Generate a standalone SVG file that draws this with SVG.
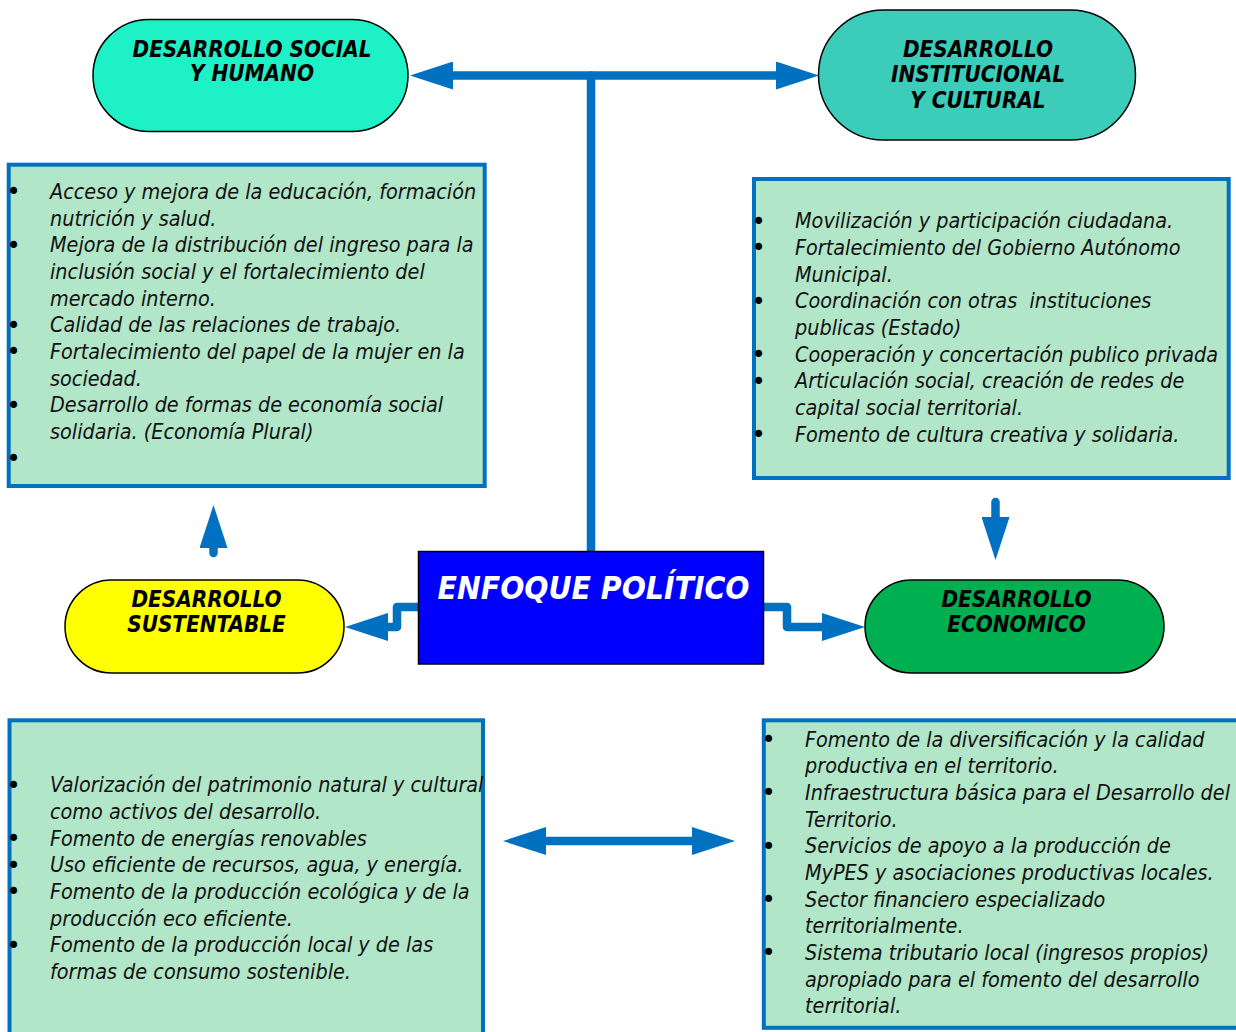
<svg xmlns="http://www.w3.org/2000/svg" width="1236" height="1032" viewBox="0 0 1236 1032">
<defs>
<style>
.pill{stroke:#000;stroke-width:1.5}
.box{fill:#B2E6C8;stroke:#0070C0;stroke-width:4}
.nt{font-family:"DejaVu Sans Condensed","DejaVu Sans",sans-serif;font-weight:bold;font-style:italic;font-size:22.3px;fill:#000;text-anchor:middle}
.bt{font-family:"DejaVu Sans Condensed","DejaVu Sans",sans-serif;font-style:italic;font-size:21.4px;fill:#111}
.bu{font-family:"DejaVu Sans",sans-serif;font-size:24px;fill:#000;text-anchor:middle}
.cn{fill:none;stroke:#0070C0;stroke-width:8.5;stroke-linejoin:round}
</style>
<marker id="ah" viewBox="0 0 43 28" refX="0" refY="14" markerWidth="43" markerHeight="28" markerUnits="userSpaceOnUse" orient="auto-start-reverse">
<path d="M0,0 L43,14 L0,28 Z" fill="#0070C0"/>
</marker>
</defs>
<rect width="1236" height="1032" fill="#fff"/>

<g id="connectors">
<path class="cn" d="M453,75.5 H776" marker-start="url(#ah)" marker-end="url(#ah)"/>
<path class="cn" d="M591,75.5 V551" stroke-linecap="round"/>
<path class="cn" d="M418,607 H397 V627 H388" stroke-linecap="round" marker-end="url(#ah)"/>
<path class="cn" d="M763,607 H787 V627 H822" stroke-linecap="round" marker-end="url(#ah)"/>
<path class="cn" d="M213.5,553 V548" stroke-linecap="round" marker-end="url(#ah)"/>
<path class="cn" d="M995.5,502 V517" stroke-linecap="round" marker-end="url(#ah)"/>
<path class="cn" d="M546,841 H692" marker-start="url(#ah)" marker-end="url(#ah)"/>
</g>

<g id="social">
<rect class="pill" x="93" y="19.5" width="315" height="112" rx="56" fill="#1FF1C6"/>
<text class="nt"><tspan x="252" y="56.5">DESARROLLO SOCIAL</tspan><tspan x="252" y="80.5">Y HUMANO</tspan></text>
</g>

<g id="institucional">
<rect class="pill" x="818.5" y="10" width="317" height="130" rx="65" fill="#3CCDBA"/>
<text class="nt"><tspan x="978" y="56.5">DESARROLLO</tspan><tspan x="978" y="82">INSTITUCIONAL</tspan><tspan x="978" y="107.5">Y CULTURAL</tspan></text>
</g>

<g id="enfoque">
<rect x="418.5" y="551.5" width="345" height="112.5" fill="#0000FF" stroke="#000" stroke-width="1.5"/>
<text class="nt" x="593.5" y="598.5" style="font-size:31.6px;fill:#fff">ENFOQUE POLÍTICO</text>
</g>

<g id="sustentable">
<rect class="pill" x="65" y="580" width="279" height="93" rx="46.5" fill="#FFFF00"/>
<text class="nt"><tspan x="206.5" y="606.5">DESARROLLO</tspan><tspan x="206.5" y="631.5">SUSTENTABLE</tspan></text>
</g>

<g id="economico">
<rect class="pill" x="865" y="580" width="299" height="93" rx="46.5" fill="#00B050"/>
<text class="nt"><tspan x="1016.5" y="606.5">DESARROLLO</tspan><tspan x="1016.5" y="631.5">ECONOMICO</tspan></text>
</g>

<g id="box-social">
<rect class="box" x="8.7" y="164.7" width="476" height="321.3"/>
<text class="bu"><tspan x="13.5" y="200.3">•</tspan><tspan x="13.5" y="253.6">•</tspan><tspan x="13.5" y="333.6">•</tspan><tspan x="13.5" y="360.3">•</tspan><tspan x="13.5" y="413.7">•</tspan><tspan x="13.5" y="467">•</tspan></text>
<text class="bt">
<tspan x="50" y="198.8">Acceso y mejora de la educación, formación</tspan>
<tspan x="50" y="225.5">nutrición y salud.</tspan>
<tspan x="50" y="252.1">Mejora de la distribución del ingreso para la</tspan>
<tspan x="50" y="278.8">inclusión social y el fortalecimiento del</tspan>
<tspan x="50" y="305.5">mercado interno.</tspan>
<tspan x="50" y="332.1">Calidad de las relaciones de trabajo.</tspan>
<tspan x="50" y="358.8">Fortalecimiento del papel de la mujer en la</tspan>
<tspan x="50" y="385.5">sociedad.</tspan>
<tspan x="50" y="412.2">Desarrollo de formas de economía social</tspan>
<tspan x="50" y="438.8">solidaria. (Economía Plural)</tspan>
</text>
</g>

<g id="box-institucional">
<rect class="box" x="754" y="179" width="474.7" height="299"/>
<text class="bu"><tspan x="758.5" y="229.7">•</tspan><tspan x="758.5" y="256.4">•</tspan><tspan x="758.5" y="309.7">•</tspan><tspan x="758.5" y="363">•</tspan><tspan x="758.5" y="389.7">•</tspan><tspan x="758.5" y="443">•</tspan></text>
<text class="bt" xml:space="preserve"><tspan x="795" y="228.2">Movilización y participación ciudadana.</tspan><tspan x="795" y="254.9">Fortalecimiento del Gobierno Autónomo</tspan><tspan x="795" y="281.5">Municipal.</tspan><tspan x="795" y="308.2">Coordinación con otras  instituciones</tspan><tspan x="795" y="334.9">publicas (Estado)</tspan><tspan x="795" y="361.5">Cooperación y concertación publico privada</tspan><tspan x="795" y="388.2">Articulación social, creación de redes de</tspan><tspan x="795" y="414.9">capital social territorial.</tspan><tspan x="795" y="441.5">Fomento de cultura creativa y solidaria.</tspan></text>
</g>

<g id="box-sustentable">
<rect class="box" x="9.5" y="720.3" width="473.5" height="330"/>
<text class="bu"><tspan x="13.5" y="793.7">•</tspan><tspan x="13.5" y="847">•</tspan><tspan x="13.5" y="873.7">•</tspan><tspan x="13.5" y="900.4">•</tspan><tspan x="13.5" y="953.7">•</tspan></text>
<text class="bt">
<tspan x="50" y="792.2">Valorización del patrimonio natural y cultural</tspan>
<tspan x="50" y="818.9">como activos del desarrollo.</tspan>
<tspan x="50" y="845.5">Fomento de energías renovables</tspan>
<tspan x="50" y="872.2">Uso eficiente de recursos, agua, y energía.</tspan>
<tspan x="50" y="898.9">Fomento de la producción ecológica y de la</tspan>
<tspan x="50" y="925.5">producción eco eficiente.</tspan>
<tspan x="50" y="952.2">Fomento de la producción local y de las</tspan>
<tspan x="50" y="978.9">formas de consumo sostenible.</tspan>
</text>
</g>

<g id="box-economico">
<rect class="box" x="763.8" y="720.3" width="480" height="307.5"/>
<text class="bu"><tspan x="768.5" y="748">•</tspan><tspan x="768.5" y="801.3">•</tspan><tspan x="768.5" y="854.7">•</tspan><tspan x="768.5" y="908">•</tspan><tspan x="768.5" y="961.3">•</tspan></text>
<text class="bt">
<tspan x="805" y="746.5">Fomento de la diversificación y la calidad</tspan>
<tspan x="805" y="773.2">productiva en el territorio.</tspan>
<tspan x="805" y="799.8">Infraestructura básica para el Desarrollo del</tspan>
<tspan x="805" y="826.5">Territorio.</tspan>
<tspan x="805" y="853.2">Servicios de apoyo a la producción de</tspan>
<tspan x="805" y="879.8">MyPES y asociaciones productivas locales.</tspan>
<tspan x="805" y="906.5">Sector financiero especializado</tspan>
<tspan x="805" y="933.2">territorialmente.</tspan>
<tspan x="805" y="959.8">Sistema tributario local (ingresos propios)</tspan>
<tspan x="805" y="986.5">apropiado para el fomento del desarrollo</tspan>
<tspan x="805" y="1013.2">territorial.</tspan>
</text>
</g>
</svg>
